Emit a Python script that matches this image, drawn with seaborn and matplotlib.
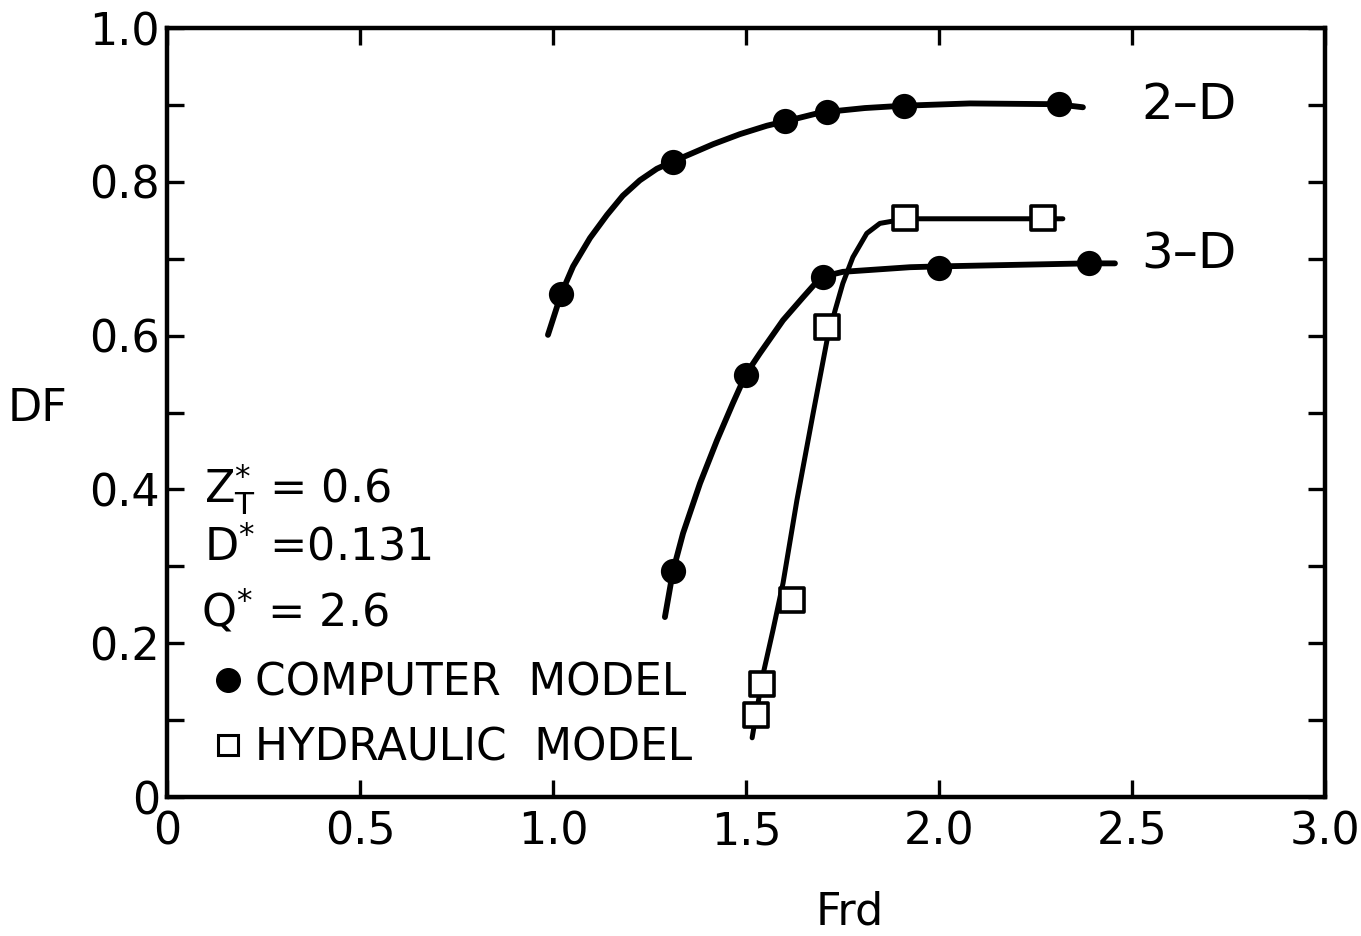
import matplotlib
matplotlib.use("Agg")
import matplotlib.pyplot as plt
from matplotlib.lines import Line2D
from matplotlib.ticker import MultipleLocator
import pandas as pd
import seaborn as sns

# Computer model results (filled circles)
frd_2d = [1.02, 1.31, 1.60, 1.71, 1.91, 2.31]
df_2d = [0.654, 0.826, 0.879, 0.891, 0.899, 0.901]

frd_3d = [1.31, 1.50, 1.70, 2.00, 2.39]
df_3d = [0.294, 0.549, 0.676, 0.688, 0.694]

# Hydraulic model measurements (open squares)
frd_hyd = [1.526, 1.541, 1.619, 1.710, 1.912, 2.269]
df_hyd = [0.107, 0.147, 0.256, 0.611, 0.753, 0.753]

# Hand-faired curves through each data set
curve_2d_x = [0.987, 1.021, 1.052, 1.096, 1.140, 1.181, 1.225, 1.269, 1.308, 1.355,
              1.415, 1.484, 1.554, 1.604, 1.684, 1.710, 1.808, 1.907, 2.080, 2.306, 2.373]
curve_2d_y = [0.601, 0.654, 0.690, 0.727, 0.757, 0.782, 0.802, 0.817, 0.826, 0.836,
              0.849, 0.862, 0.873, 0.879, 0.889, 0.891, 0.896, 0.899, 0.902, 0.901, 0.897]

curve_3d_x = [1.290, 1.311, 1.337, 1.381, 1.425, 1.466, 1.500, 1.536, 1.596, 1.648,
              1.694, 1.751, 1.925, 1.995, 2.386, 2.456]
curve_3d_y = [0.234, 0.294, 0.343, 0.408, 0.464, 0.512, 0.550, 0.577, 0.620, 0.650,
              0.676, 0.683, 0.689, 0.690, 0.694, 0.694]

curve_hyd_x = [1.516, 1.526, 1.544, 1.570, 1.596, 1.632, 1.674, 1.710, 1.731, 1.751,
               1.777, 1.813, 1.847, 1.881, 1.912, 2.269, 2.321]
curve_hyd_y = [0.077, 0.107, 0.159, 0.217, 0.278, 0.386, 0.499, 0.594, 0.633, 0.668,
               0.702, 0.733, 0.746, 0.749, 0.752, 0.752, 0.752]

x_ticks = [0, 0.5, 1.0, 1.5, 2.0, 2.5, 3.0]
x_tick_labels = ["0", "0.5", "1.0", "1.5", "2.0", "2.5", "3.0"]
y_ticks = [0, 0.2, 0.4, 0.6, 0.8, 1.0]
y_tick_labels = ["0", "0.2", "0.4", "0.6", "0.8", "1.0"]

sns.set_style("ticks")
plt.rcParams["font.family"] = ["DejaVu Sans"]
plt.rcParams["mathtext.fontset"] = "dejavusans"
plt.rcParams["text.color"] = "black"
plt.rcParams["axes.labelcolor"] = "black"
plt.rcParams["xtick.color"] = "black"
plt.rcParams["ytick.color"] = "black"

fig = plt.figure(figsize=(13.61, 9.36), dpi=100)
ax = fig.add_axes([0.1227, 0.1485, 0.8508, 0.8215])

curves = pd.concat([
    pd.DataFrame({"frd": curve_2d_x, "df": curve_2d_y, "set": "2-D"}),
    pd.DataFrame({"frd": curve_3d_x, "df": curve_3d_y, "set": "3-D"}),
])
sns.lineplot(data=curves, x="frd", y="df", units="set", estimator=None, sort=False,
             color="black", linewidth=4.2, ax=ax, solid_capstyle="round",
             solid_joinstyle="round")
sns.lineplot(x=curve_hyd_x, y=curve_hyd_y, estimator=None, sort=False,
             color="black", linewidth=3.6, ax=ax, solid_capstyle="round",
             solid_joinstyle="round")

circles = pd.DataFrame({"frd": frd_2d + frd_3d, "df": df_2d + df_3d})
sns.scatterplot(data=circles, x="frd", y="df", marker="o", s=330, color="black",
                edgecolor="black", linewidth=0, ax=ax, zorder=5)
sns.scatterplot(x=frd_hyd, y=df_hyd, marker="s", s=290, facecolor="white",
                edgecolor="black", linewidth=2.6, ax=ax, zorder=6)

ax.set_xlim(0, 3.0)
ax.set_ylim(0, 1.0)
ax.set_xticks(x_ticks)
ax.set_xticklabels(x_tick_labels)
ax.set_yticks(y_ticks)
ax.set_yticklabels(y_tick_labels)
ax.yaxis.set_minor_locator(MultipleLocator(0.1))

for side in ["left", "right", "top", "bottom"]:
    ax.spines[side].set_linewidth(3.2)
    ax.spines[side].set_color("black")

ax.tick_params(axis="both", which="both", direction="in", top=True, right=True,
               width=2.4, length=12, color="black", labelcolor="black")
ax.tick_params(axis="x", labelsize=32, pad=10)
ax.tick_params(axis="y", labelsize=32, pad=5)

ax.set_xlabel("Frd", fontsize=32, va="center")
ax.xaxis.set_label_coords(0.59, -0.149)
ax.set_ylabel("DF", fontsize=32, rotation=0, va="center")
ax.yaxis.set_label_coords(-0.112, 0.505)

ax.text(2.525, 0.900, "2\u2013D", fontsize=36, va="center", ha="left")
ax.text(2.525, 0.705, "3\u2013D", fontsize=36, va="center", ha="left")

ax.text(0.095, 0.400, r"$\mathregular{Z^{*}_{T}}$ = 0.6", fontsize=32, va="center")
ax.text(0.095, 0.324, r"$\mathregular{D^{*}}$ =0.131", fontsize=32, va="center")
ax.text(0.087, 0.242, r"$\mathregular{Q^{*}}$ = 2.6", fontsize=32, va="center")

handles = [
    Line2D([], [], marker="o", linestyle="none", color="black", markersize=17),
    Line2D([], [], marker="s", linestyle="none", markerfacecolor="white",
           markeredgecolor="black", markeredgewidth=2.2, markersize=14),
]
ax.legend(handles, ["COMPUTER  MODEL", "HYDRAULIC  MODEL"], loc="upper left",
          bbox_to_anchor=(0.021, 0.205), frameon=False, fontsize=31.5,
          handlelength=0.7, handletextpad=0.25, labelspacing=0.5, borderpad=0)

sns.despine(ax=ax, top=False, right=False)
fig.savefig("out.png", dpi=100)
